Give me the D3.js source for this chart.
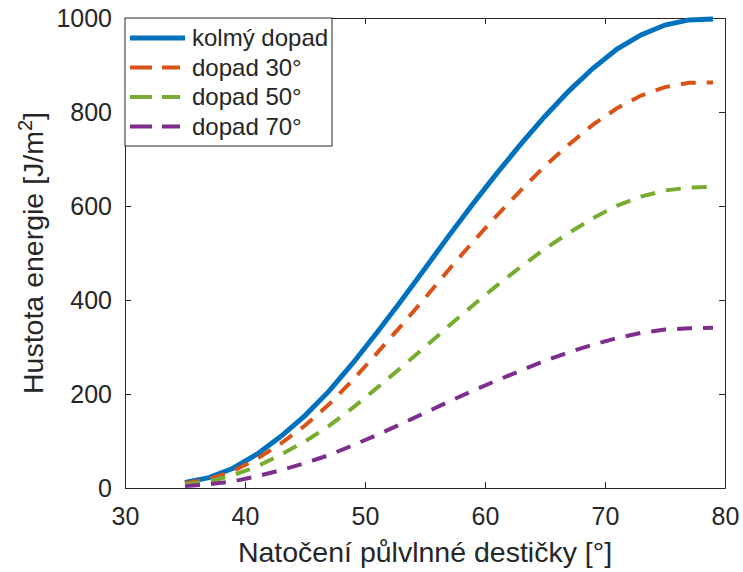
<!DOCTYPE html>
<html>
<head>
<meta charset="utf-8">
<script src="https://cdn.jsdelivr.net/npm/d3@7"></script>
<style>
  body { margin: 0; background: #fff; }
  svg text { font-family: "Liberation Sans", Arial, Helvetica, sans-serif; fill: #262626; }
</style>
</head>
<body>
<script>
// angle of the half-wave plate [deg]
var angles = [35, 37, 39, 41, 43, 45, 47, 49, 51, 53, 55, 57, 59, 61, 63, 65, 67, 69, 71, 73, 75, 77, 79];

// energy density [J/m^2]
var kolmy   = [12, 22, 42, 72, 110, 154, 206, 266, 331, 398, 467, 537, 605, 670, 732, 791, 845, 893, 934, 964, 985, 996, 998];
var dopad30 = [10, 19, 36, 62, 95, 133, 178, 230, 287, 345, 404, 465, 524, 580, 634, 685, 731, 773, 808, 835, 853, 862, 863];
var dopad50 = [8, 14, 27, 46, 71, 99, 132, 171, 213, 256, 300, 345, 389, 431, 471, 509, 543, 574, 601, 620, 633, 639, 641];
var dopad70 = [4, 8, 14, 25, 38, 53, 70, 91, 113, 136, 160, 184, 207, 229, 250, 271, 289, 305, 319, 330, 337, 340, 341];

var seriesNames = ["kolmý dopad", "dopad 30°", "dopad 50°", "dopad 70°"];
var seriesColors = ["#0072BD", "#D95319", "#77AC30", "#7E2F8E"];

var xTicks = [30, 40, 50, 60, 70, 80];
var yTicks = [0, 200, 400, 600, 800, 1000];

var W = 743, H = 572;
var margin = {top: 18, right: 18, bottom: 84, left: 125};
var width = W - margin.left - margin.right,
    height = H - margin.top - margin.bottom;

var svg = d3.select("body").append("svg")
    .attr("width", W)
    .attr("height", H);

var g = svg.append("g")
    .attr("transform", "translate(" + margin.left + "," + margin.top + ")");

var x = d3.scaleLinear().domain([30, 80]).range([0, width]);
var y = d3.scaleLinear().domain([0, 1000]).range([height, 0]);

// axes, MATLAB style: ticks inside, box on
var axColor = "#262626";
var tickLen = 6;
var fmt = d3.format("d");

var xAxis = g.append("g")
    .attr("transform", "translate(0," + height + ")")
    .call(d3.axisBottom(x).tickValues(xTicks).tickFormat(fmt).tickSize(-tickLen).tickPadding(19).tickSizeOuter(0));
var yAxis = g.append("g")
    .call(d3.axisLeft(y).tickValues(yTicks).tickFormat(fmt).tickSize(-tickLen).tickPadding(13).tickSizeOuter(0));
var xTop = g.append("g")
    .call(d3.axisTop(x).tickValues(xTicks).tickSize(-tickLen).tickFormat("").tickSizeOuter(0));
var yRight = g.append("g")
    .attr("transform", "translate(" + width + ",0)")
    .call(d3.axisRight(y).tickValues(yTicks).tickSize(-tickLen).tickFormat("").tickSizeOuter(0));

[xAxis, yAxis, xTop, yRight].forEach(function(a){
    a.selectAll("path").attr("stroke", axColor).attr("stroke-width", 1);
    a.selectAll("line").attr("stroke", axColor).attr("stroke-width", 1);
    a.selectAll("text").attr("font-size", 25).style("fill", axColor);
});
xAxis.selectAll("text").attr("dy", "0.71em");

// series lines
var line = d3.line()
    .x(function(d){ return x(d[0]); })
    .y(function(d){ return y(d[1]); })
    .curve(d3.curveLinear);

var allSeries = [kolmy, dopad30, dopad50, dopad70];
var dash = "15,11";

allSeries.forEach(function(vals, i){
    var pts = angles.map(function(a, j){ return [a, vals[j]]; });
    g.append("path")
        .datum(pts)
        .attr("d", line)
        .attr("fill", "none")
        .attr("stroke", seriesColors[i])
        .attr("stroke-width", i == 0 ? 5 : 4)
        .attr("stroke-dasharray", i == 0 ? null : dash);
});

// legend
var legend = g.append("g");
legend.append("rect")
    .attr("x", 0)
    .attr("y", 0)
    .attr("width", 207)
    .attr("height", 128)
    .attr("fill", "#fff")
    .attr("stroke", axColor)
    .attr("stroke-width", 1);

seriesNames.forEach(function(name, i){
    var ly = 20 + i * 29.5;
    legend.append("line")
        .attr("x1", 5)
        .attr("x2", 60)
        .attr("y1", ly)
        .attr("y2", ly)
        .attr("stroke", seriesColors[i])
        .attr("stroke-width", i == 0 ? 5 : 4)
        .attr("stroke-dasharray", i == 0 ? null : "22,10,18,6,3");
    legend.append("text")
        .attr("x", 67)
        .attr("y", ly)
        .attr("dy", "0.35em")
        .attr("font-size", 24)
        .text(name);
});

// axis labels
svg.append("text")
    .attr("x", margin.left + width / 2)
    .attr("y", 562)
    .attr("text-anchor", "middle")
    .attr("font-size", 28.5)
    .text("Natočení půlvlnné destičky [°]");

var yl = svg.append("text")
    .attr("transform", "translate(43," + (margin.top + height / 2) + ") rotate(-90)")
    .attr("text-anchor", "middle")
    .attr("font-size", 28.5);
yl.append("tspan").text("Hustota energie [J/m");
yl.append("tspan").attr("font-size", 20).attr("dy", -11).text("2");
yl.append("tspan").attr("dy", 11).text("]");
</script>
</body>
</html>
